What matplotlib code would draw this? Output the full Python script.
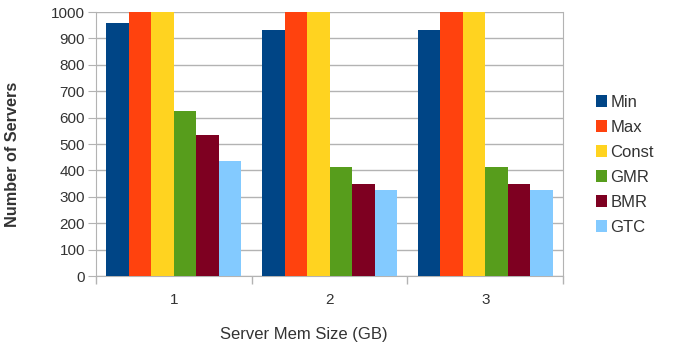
import matplotlib
matplotlib.use("Agg")
import matplotlib.pyplot as plt
import numpy as np

plt.rcParams['font.family'] = ['Liberation Sans', 'DejaVu Sans']

categories = ["1", "2", "3"]
series_names = ["Min", "Max", "Const", "GMR", "BMR", "GTC"]
min_vals = [957, 933, 933]
max_vals = [1000, 1000, 1000]
const_vals = [1000, 1000, 1000]
gmr_vals = [624, 413, 413]
bmr_vals = [534, 349, 349]
gtc_vals = [437, 324, 324]
colors = ["#004586", "#ff420e", "#ffd320", "#579d1c", "#7e0021", "#83caff"]

values = [min_vals, max_vals, const_vals, gmr_vals, bmr_vals, gtc_vals]

fig = plt.figure(figsize=(6.81, 3.46), dpi=100)
ax = fig.add_axes([0.141, 0.2023, 0.686, 0.763])

x = np.arange(len(categories))
group_w = 0.867
bw = group_w / len(series_names)
for i, (name, vals, c) in enumerate(zip(series_names, values, colors)):
    offs = -group_w / 2 + bw * (i + 0.5)
    ax.bar(x + offs, vals, width=bw, color=c, label=name, zorder=3)

ax.set_xlim(-0.5, len(categories) - 0.5)
ax.set_ylim(0, 1000)
ax.set_yticks(np.arange(0, 1001, 100))
ax.set_xticks(x)
ax.set_xticklabels(categories)
ax.set_xticks(np.arange(-0.5, len(categories)), minor=True)
ax.tick_params(axis='x', which='major', length=0, pad=12, labelsize=11, labelcolor="#333333")
ax.tick_params(axis='x', which='minor', length=6, color="#b3b3b3", width=1)
ax.tick_params(axis='y', length=6, color="#b3b3b3", labelsize=11, labelcolor="#333333", pad=2)

ax.grid(axis='y', color="#b3b3b3", linewidth=1, zorder=0)
ax.spines["top"].set_visible(False)
for s in ["left", "bottom", "right"]:
    ax.spines[s].set_color("#b3b3b3")

ax.set_ylabel("Number of Servers", fontsize=11.7, fontweight='bold', color="#333333")
ax.yaxis.set_label_coords(-0.163, 0.46)
ax.set_xlabel("Server Mem Size (GB)", fontsize=12, color="#333333")
ax.xaxis.set_label_coords(0.445, -0.195)

leg = ax.legend(loc='center left', bbox_to_anchor=(1.055, 0.42), frameon=False,
                fontsize=12, handlelength=0.7, handleheight=0.7, handletextpad=0.2,
                labelspacing=0.6, borderaxespad=0)
for t in leg.get_texts():
    t.set_color("#333333")

fig.savefig("out.png", dpi=100)
